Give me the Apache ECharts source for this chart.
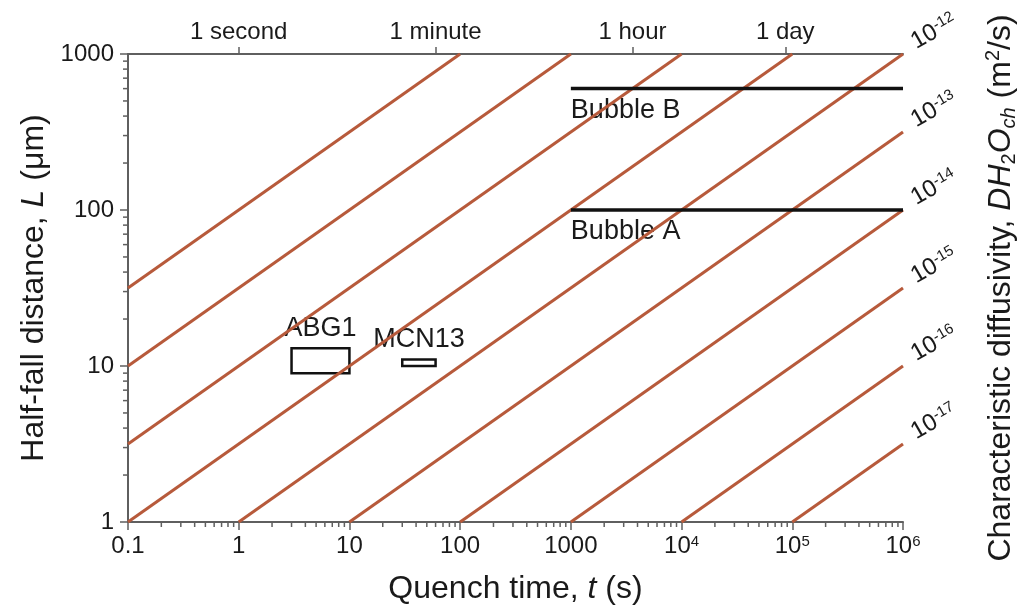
<!DOCTYPE html>
<html>
<head>
<meta charset="utf-8">
<script src="https://cdn.jsdelivr.net/npm/echarts@6/dist/echarts.min.js"></script>
<style>
  html, body { margin: 0; padding: 0; background: #fff; }
  #chart { width: 1027px; height: 614px; }
</style>
</head>
<body>
<div id="chart"></div>
<script>
// iso-diffusivity lines, start and end points as (t in s, L in µm)
const diffLineStarts = [[0.1, 31.6], [0.1, 10], [0.1, 3.16], [0.1, 1], [1, 1], [10, 1], [100, 1], [1000, 1], [1e4, 1], [1e5, 1]];
const diffLineEnds = [[100, 1000], [1000, 1000], [1e4, 1000], [1e5, 1000], [1e6, 1000], [1e6, 316], [1e6, 100], [1e6, 31.6], [1e6, 10], [1e6, 3.16]];
// exponent labels on the right, for the last six lines
const diffExponents = ['-12', '-13', '-14', '-15', '-16', '-17'];

const bubbleNames = ['Bubble B', 'Bubble A'];
const bubbleL = [600, 100];
const bubbleT = [1000, 1e6];

const sampleNames = ['ABG1', 'MCN13'];
const sampleT = [[3, 10], [30, 60]];
const sampleL = [[9, 13], [10, 11]];

const topTickSeconds = [1, 60, 3600, 86400];
const topTickNames = ['1 second', '1 minute', '1 hour', '1 day'];

const minorSteps = [2, 3, 4, 5, 6, 7, 8, 9];
const xDecades = [0.1, 1, 10, 100, 1000, 1e4, 1e5];
const yDecades = [1, 10, 100];

const font = 'Liberation Sans, Arial, sans-serif';
const axisColor = '#5f5f5f';
const lineColor = '#b75a3b';
const textColor = '#1a1a1a';

const xMinor = [];
xDecades.forEach(d => minorSteps.forEach(s => xMinor.push([d * s, 1])));
const yMinor = [];
yDecades.forEach(d => minorSteps.forEach(s => yMinor.push([0.1, d * s])));

function tickSeries(data, dx, dy) {
    return {
        type: 'custom',
        coordinateSystem: 'cartesian2d',
        clip: false,
        silent: true,
        data: data,
        renderItem: function (params, api) {
            const p = api.coord([api.value(0), api.value(1)]);
            return {
                type: 'line',
                shape: { x1: p[0], y1: p[1], x2: p[0] + dx, y2: p[1] + dy },
                style: { stroke: axisColor, lineWidth: 1.5 }
            };
        }
    };
}

const supRich = {
    sup: { fontSize: 15, fontFamily: font, color: textColor, verticalAlign: 'top', lineHeight: 14 }
};

function powLabel(v) {
    const e = Math.round(Math.log10(v));
    if (e <= 3) return e < 0 ? '0.1' : String(Math.round(v));
    return '10{sup|' + e + '}';
}

const series = [];
diffLineStarts.forEach((s, i) => {
    series.push({
        type: 'line',
        symbol: 'none',
        silent: true,
        lineStyle: { color: lineColor, width: 3 },
        data: [s, diffLineEnds[i]]
    });
});

bubbleNames.forEach((name, i) => {
    series.push({
        type: 'line',
        symbol: 'none',
        silent: true,
        lineStyle: { color: '#111', width: 3.5 },
        data: [[bubbleT[0], bubbleL[i]], [bubbleT[1], bubbleL[i]]]
    });
});

// text for the bubble lines
series.push({
    type: 'scatter',
    silent: true,
    symbolSize: 0,
    itemStyle: { color: textColor, opacity: 1 },
    label: {
        show: true, position: 'bottom', align: 'left', distance: 8,
        fontSize: 27, fontFamily: font, color: textColor,
        formatter: p => bubbleNames[p.dataIndex]
    },
    data: bubbleL.map(L => [bubbleT[0], L])
});

// exponent labels of the diffusivity lines
series.push({
    type: 'scatter',
    silent: true,
    symbolSize: 0,
    itemStyle: { color: textColor, opacity: 1 },
    clip: false,
    label: {
        show: true, position: 'right', distance: 16, rotate: 30,
        verticalAlign: 'bottom',
        fontSize: 24, fontFamily: font, color: textColor,
        formatter: p => '10{sup|' + diffExponents[p.dataIndex] + '}',
        rich: supRich
    },
    data: diffLineEnds.slice(4)
});

// sample boxes
series.push({
    type: 'line',
    data: [],
    markArea: {
        silent: true,
        itemStyle: { color: 'rgba(0,0,0,0)', borderColor: '#111', borderWidth: 2.5 },
        label: { show: true, position: 'top', distance: 5, fontSize: 27, fontFamily: font, color: textColor },
        data: sampleNames.map((name, i) => [
            { name: name, coord: [sampleT[i][0], sampleL[i][1]] },
            { coord: [sampleT[i][1], sampleL[i][0]] }
        ])
    }
});

series.push(tickSeries(xMinor, 0, 5));
series.push(tickSeries(yMinor, -5, 0));

const option = {
    backgroundColor: '#fff',
    animation: false,
    grid: { left: 128, right: 121, top: 54, bottom: 92 },
    xAxis: [{
        type: 'log',
        logBase: 10,
        min: 0.1,
        max: 1e6,
        interval: 1,
        name: 'Quench time, {i|t} (s)',
        nameLocation: 'middle',
        nameGap: 51,
        nameTextStyle: {
            fontSize: 32, fontFamily: font, color: textColor,
            rich: { i: { fontSize: 32, fontFamily: font, fontStyle: 'italic', color: textColor } }
        },
        axisLine: { onZero: false, lineStyle: { color: axisColor, width: 2 } },
        axisTick: { length: 8, lineStyle: { color: axisColor, width: 1.5 } },
        axisLabel: {
            margin: 12, fontSize: 24, fontFamily: font, color: textColor,
            formatter: powLabel, rich: supRich
        },
        splitLine: { show: false }
    }, {
        type: 'value',
        position: 'top',
        min: -1,
        max: 6,
        axisLine: { onZero: false, lineStyle: { color: axisColor, width: 2 } },
        axisTick: {
            length: 7, lineStyle: { color: axisColor, width: 1.5 },
            customValues: topTickSeconds.map(Math.log10)
        },
        axisLabel: {
            margin: 10, fontSize: 24, fontFamily: font, color: textColor,
            customValues: topTickSeconds.map(Math.log10),
            formatter: function (v) {
                let best = 0;
                topTickSeconds.forEach((s, i) => {
                    if (Math.abs(Math.log10(s) - v) < Math.abs(Math.log10(topTickSeconds[best]) - v)) best = i;
                });
                return topTickNames[best];
            }
        },
        splitLine: { show: false }
    }],
    yAxis: [{
        type: 'log',
        logBase: 10,
        min: 1,
        max: 1000,
        interval: 1,
        name: 'Half-fall distance, {i|L} (μm)',
        nameLocation: 'middle',
        nameRotate: 90,
        nameGap: 70,
        nameTextStyle: {
            fontSize: 32, fontFamily: font, color: textColor,
            rich: { i: { fontSize: 32, fontFamily: font, fontStyle: 'italic', color: textColor } }
        },
        axisLine: { onZero: false, lineStyle: { color: axisColor, width: 2 } },
        axisTick: { length: 8, lineStyle: { color: axisColor, width: 1.5 } },
        axisLabel: {
            margin: 14, fontSize: 24, fontFamily: font, color: textColor,
            formatter: v => String(Math.round(v))
        },
        splitLine: { show: false }
    }, {
        type: 'log',
        logBase: 10,
        min: 1,
        max: 1000,
        position: 'right',
        name: 'Characteristic diffusivity, {i|DH}{sub|2}{i|O}{subi|ch} (m{sup|2}/s)',
        nameLocation: 'middle',
        nameRotate: 90,
        nameGap: 80,
        nameTextStyle: {
            fontSize: 32, fontFamily: font, color: textColor,
            rich: {
                i: { fontSize: 32, fontFamily: font, fontStyle: 'italic', color: textColor, lineHeight: 36 },
                sub: { fontSize: 20, fontFamily: font, color: textColor, verticalAlign: 'bottom', lineHeight: 18 },
                subi: { fontSize: 20, fontFamily: font, fontStyle: 'italic', color: textColor, verticalAlign: 'bottom', lineHeight: 18 },
                sup: { fontSize: 20, fontFamily: font, color: textColor, verticalAlign: 'top', lineHeight: 18 }
            }
        },
        axisLine: { show: false, onZero: false },
        axisTick: { show: false },
        axisLabel: { show: false },
        splitLine: { show: false }
    }],
    series: series
};

const chart = echarts.init(document.getElementById('chart'), null, { renderer: 'canvas' });
chart.setOption(option);
</script>
</body>
</html>
